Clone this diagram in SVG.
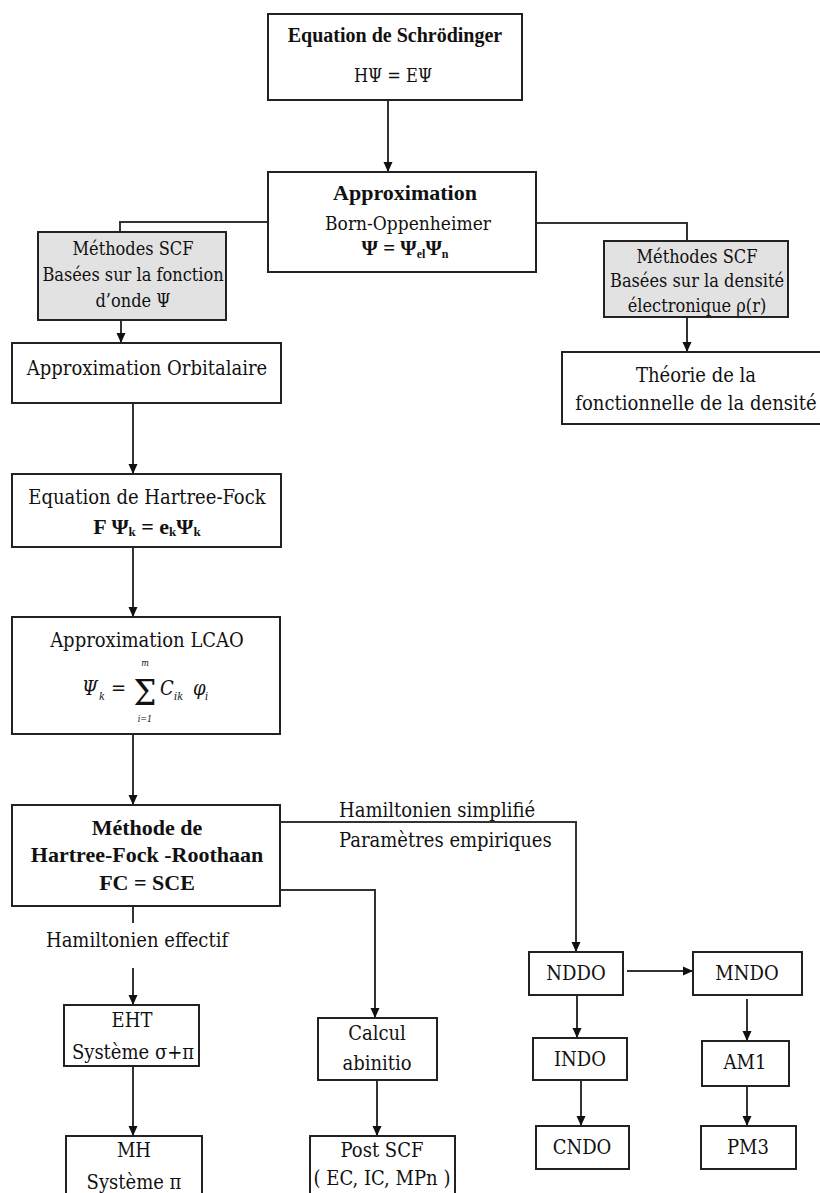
<svg xmlns="http://www.w3.org/2000/svg" width="820" height="1193" viewBox="0 0 820 1193">
<style>
text{font-family:"DejaVu Serif Condensed","DejaVu Serif",serif;fill:#111;text-anchor:middle}
.t22{font-size:20px}
.t21{font-size:19px}
.t20{font-size:18px}
.b{font-family:"Liberation Serif","Times New Roman",serif;font-weight:bold}
.t22.b{font-size:22px}
.t21.b{font-size:21px}
.t20.b{font-size:20px}
.box{fill:#fff;stroke:#222;stroke-width:2}
.gbox{fill:#e2e2e2;stroke:#222;stroke-width:2}
.con{fill:none;stroke:#333;stroke-width:2}
.arr{marker-end:url(#ah)}
.it{font-style:italic}
.st{text-anchor:start}
</style>
<defs>
<marker id="ah" markerUnits="userSpaceOnUse" markerWidth="10" markerHeight="10" viewBox="0 0 10 10" refX="10" refY="5" orient="auto">
<path d="M0,0.5 L10,5 L0,9.5 Z" fill="#111"/>
</marker>
</defs>
<rect width="820" height="1193" fill="#fff"/>

<g id="connectors">
<path class="con arr" d="M388,100 V172"/>
<path class="con" d="M268,222 H120 V232"/>
<path class="con" d="M537,223 H687 V241"/>
<path class="con arr" d="M121,320 V343"/>
<path class="con arr" d="M687,317 V352"/>
<path class="con arr" d="M133,403 V474"/>
<path class="con arr" d="M133,547 V617"/>
<path class="con arr" d="M133,734 V805"/>
<path class="con" d="M133,906 V923"/>
<path class="con arr" d="M133,968 V1005"/>
<path class="con arr" d="M133,1066 V1136"/>
<path class="con arr" d="M280,890 H375 V1018"/>
<path class="con arr" d="M377,1080 V1136"/>
<path class="con arr" d="M280,822 H576 V952"/>
<path class="con arr" d="M627,971 H693"/>
<path class="con arr" d="M577,995 V1038"/>
<path class="con arr" d="M581,1080 V1126"/>
<path class="con arr" d="M747,999 V1041"/>
<path class="con arr" d="M747,1086 V1126"/>
</g>

<g id="schrodinger">
<rect class="box" x="268" y="14" width="254" height="86"/>
<text class="t20 b" x="395" y="42">Equation de Schrödinger</text>
<text class="t20" x="393" y="82">HΨ = EΨ</text>
</g>

<g id="born-oppenheimer">
<rect class="box" x="268" y="172" width="268" height="100"/>
<text class="t22 b" x="405" y="200">Approximation</text>
<text class="t21" x="408" y="230">Born-Oppenheimer</text>
<text class="t21 b" x="405" y="255">Ψ = Ψ<tspan font-size="12" dy="3">el</tspan><tspan dy="-3">Ψ</tspan><tspan font-size="12" dy="3">n</tspan></text>
</g>

<g id="scf-onde">
<rect class="gbox" x="38" y="232" width="188" height="88"/>
<text class="t20" x="133" y="255">Méthodes SCF</text>
<text class="t20" x="133" y="281">Basées sur la fonction</text>
<text class="t20" x="133" y="307">d’onde Ψ</text>
</g>

<g id="scf-densite">
<rect class="gbox" x="604" y="241" width="184" height="76"/>
<text class="t20" x="697" y="263">Méthodes SCF</text>
<text class="t20" x="697" y="287">Basées sur la densité</text>
<text class="t20" x="697" y="312">électronique ρ(r)</text>
</g>

<g id="dft">
<rect class="box" x="562" y="352" width="262" height="72"/>
<text class="t22" x="696" y="382">Théorie de la</text>
<text class="t22" x="696" y="410">fonctionnelle de la densité</text>
</g>

<g id="orbitalaire">
<rect class="box" x="12" y="343" width="269" height="60"/>
<text class="t22" x="147" y="375">Approximation Orbitalaire</text>
</g>

<g id="hartree-fock">
<rect class="box" x="12" y="474" width="269" height="73"/>
<text class="t22" x="147" y="504">Equation de Hartree-Fock</text>
<text class="t22 b" x="147" y="534">F Ψ<tspan font-size="13" dy="2">k</tspan><tspan dy="-2"> = e</tspan><tspan font-size="13" dy="2">k</tspan><tspan dy="-2">Ψ</tspan><tspan font-size="13" dy="2">k</tspan></text>
</g>

<g id="lcao">
<rect class="box" x="12" y="617" width="268" height="117"/>
<text class="t22" x="147" y="647">Approximation LCAO</text>
<text class="t22 it st" x="82" y="695">Ψ</text>
<text class="it st" font-size="11" x="99" y="700">k</text>
<text class="t22 st" x="111" y="695">=</text>
<text font-size="36" x="145" y="705">Σ</text>
<text class="it" font-size="9" x="145" y="666">m</text>
<text class="it" font-size="9" x="145" y="722">i=1</text>
<text class="t22 it st" x="160" y="695">C</text>
<text class="it st" font-size="11" x="174" y="700">ik</text>
<text class="t22 it st" x="193" y="695">φ</text>
<text class="it st" font-size="11" x="205" y="700">i</text>
</g>

<g id="roothaan">
<rect class="box" x="12" y="805" width="268" height="101"/>
<text class="t22 b" x="147" y="835">Méthode de</text>
<text class="t22 b" x="147" y="862">Hartree-Fock -Roothaan</text>
<text class="t22 b" x="147" y="890">FC = SCE</text>
</g>

<g id="label-effectif">
<text class="t22" x="137" y="947">Hamiltonien effectif</text>
</g>

<g id="label-simplifie">
<text class="t22 st" x="339" y="817">Hamiltonien simplifié</text>
<text class="t22 st" x="339" y="847">Paramètres empiriques</text>
</g>

<g id="eht">
<rect class="box" x="64" y="1005" width="135" height="61"/>
<text class="t22" x="132" y="1027">EHT</text>
<text class="t22" x="133" y="1059">Système σ+π</text>
</g>

<g id="mh">
<rect class="box" x="66" y="1136" width="136" height="62"/>
<text class="t22" x="134" y="1157">MH</text>
<text class="t22" x="134" y="1189">Système π</text>
</g>

<g id="calcul">
<rect class="box" x="318" y="1018" width="119" height="62"/>
<text class="t22" x="377" y="1040">Calcul</text>
<text class="t22" x="377" y="1070">abinitio</text>
</g>

<g id="post-scf">
<rect class="box" x="310" y="1136" width="145" height="62"/>
<text class="t22" x="382" y="1157">Post SCF</text>
<text class="t22" x="382" y="1185">( EC, IC, MPn )</text>
</g>

<g id="nddo">
<rect class="box" x="529" y="952" width="94" height="43"/>
<text class="t22" x="576" y="980">NDDO</text>
</g>

<g id="mndo">
<rect class="box" x="693" y="952" width="109" height="43"/>
<text class="t22" x="747" y="980">MNDO</text>
</g>

<g id="indo">
<rect class="box" x="533" y="1038" width="94" height="42"/>
<text class="t22" x="580" y="1066">INDO</text>
</g>

<g id="am1">
<rect class="box" x="702" y="1041" width="87" height="45"/>
<text class="t22" x="745" y="1069">AM1</text>
</g>

<g id="cndo">
<rect class="box" x="536" y="1126" width="93" height="43"/>
<text class="t22" x="582" y="1154">CNDO</text>
</g>

<g id="pm3">
<rect class="box" x="701" y="1126" width="95" height="43"/>
<text class="t22" x="748" y="1154">PM3</text>
</g>
</svg>
